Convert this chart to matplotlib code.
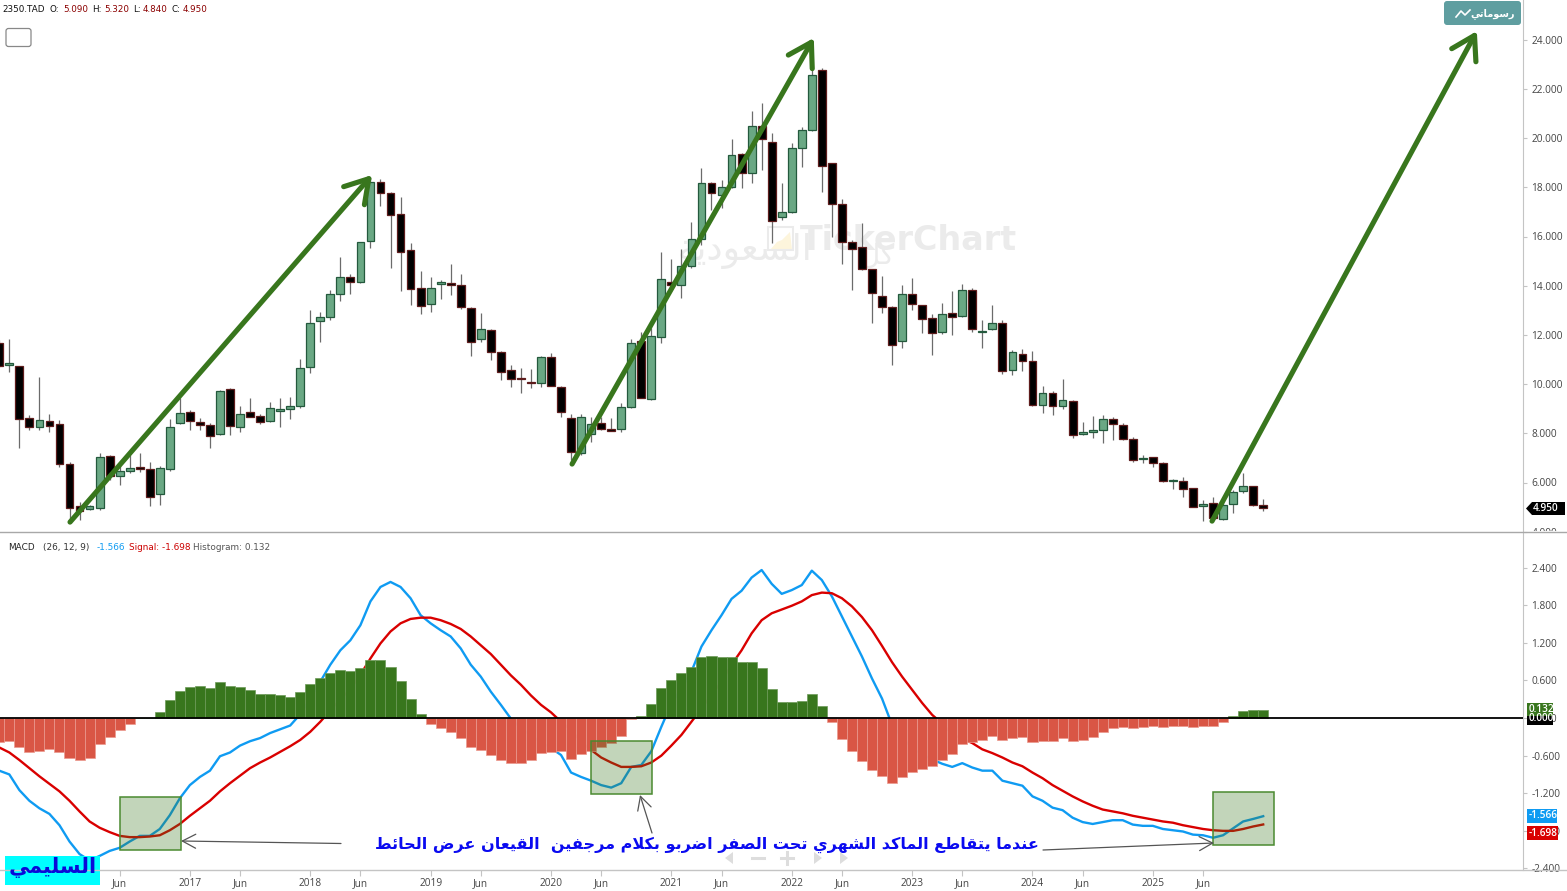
# -*- coding: utf-8 -*-
import numpy as np
import matplotlib
matplotlib.use('Agg')
import matplotlib.pyplot as plt
from matplotlib.patches import Rectangle, FancyBboxPatch, Polygon
from matplotlib.transforms import Bbox

# monthly candles, index 0 = Jun 2015
opens = [11.68,10.78,10.73,8.63,8.27,8.49,8.38,6.74,5.03,4.92,4.98,7.08,6.28,6.47,6.64,6.53,5.52,6.53,8.42,8.88,
         8.47,8.32,7.97,9.79,8.27,8.88,8.72,8.49,8.90,9.00,9.11,10.68,12.58,12.74,13.65,14.35,14.15,15.83,18.20,17.78,
         16.90,15.44,13.89,13.25,14.07,14.12,14.01,13.11,11.82,12.21,11.29,10.56,10.26,10.08,10.03,11.09,9.89,8.61,7.18,7.98,
         8.42,8.17,8.17,9.05,11.76,9.38,11.93,14.16,14.03,14.81,15.90,18.17,17.69,18.00,19.35,18.57,20.49,19.85,16.78,17.00,
         19.58,20.33,22.78,18.97,17.32,15.79,15.56,14.66,13.59,13.15,11.76,13.65,13.20,12.67,12.13,12.88,12.77,13.81,12.10,12.22,
         12.50,10.57,11.22,10.94,9.15,9.62,9.11,9.33,7.97,8.05,8.12,8.58,8.34,7.75,6.94,7.02,6.80,6.05,6.07,5.78,
         5.03,5.15,4.51,5.11,5.65,5.84,5.09]
highs = [11.80,11.83,10.75,8.74,10.29,8.78,8.54,6.82,5.22,5.10,7.18,7.12,6.78,7.12,7.18,6.83,6.67,8.58,9.42,8.95,
         8.61,8.40,9.76,9.83,9.11,9.43,8.78,9.27,9.43,9.47,11.02,13.00,12.93,13.81,15.17,14.46,15.77,18.40,18.34,17.80,
         17.59,15.72,14.58,14.35,14.23,14.89,14.46,13.15,12.88,12.25,11.34,10.77,10.64,10.61,11.14,11.25,9.91,8.78,8.77,8.65,
         8.65,8.61,9.22,11.82,12.13,12.27,15.35,15.08,15.50,16.57,18.77,18.20,18.29,19.96,19.38,21.11,21.41,20.19,18.16,19.79,
         20.44,23.10,22.83,19.00,17.51,15.86,16.53,14.68,14.39,13.17,14.03,14.30,13.22,12.85,13.28,13.80,14.05,13.89,12.60,13.20,
         12.60,11.38,11.41,11.34,9.94,9.70,10.21,9.34,8.44,8.72,8.74,8.65,8.40,7.83,7.12,7.03,6.85,6.14,6.24,5.79,
         5.29,5.40,5.15,5.69,6.37,5.85,5.32]
lows = [10.70,10.48,7.39,8.13,8.13,8.07,6.64,4.41,4.47,4.87,4.88,6.10,5.91,6.40,6.44,5.03,5.08,6.48,8.38,8.13,
        8.13,7.39,7.93,7.93,8.07,8.65,8.38,8.46,8.27,8.58,9.04,10.46,11.72,12.60,13.38,13.67,14.12,15.52,17.24,14.70,
        13.80,13.21,12.85,12.92,13.44,13.62,13.04,11.15,11.71,10.98,10.17,9.89,9.62,9.83,9.89,9.92,8.65,6.91,7.12,7.66,
        8.13,8.10,8.07,9.01,9.42,9.35,11.66,13.90,13.49,14.70,15.66,17.07,17.17,17.97,17.96,18.19,18.70,15.75,16.67,16.94,
        18.84,20.30,17.79,15.99,14.87,13.82,14.65,12.47,12.90,10.78,11.45,13.01,12.09,11.18,12.04,12.01,12.74,12.13,11.45,12.20,
        10.41,10.38,10.54,9.12,8.81,8.74,8.99,7.82,7.93,7.82,7.62,7.73,7.74,6.82,6.78,6.62,6.02,5.72,5.42,4.99,
        4.45,4.50,4.47,4.75,5.56,5.04,4.84]
closes = [10.73,10.86,8.58,8.27,8.53,8.31,6.74,4.98,4.84,5.03,7.04,6.26,6.45,6.57,6.56,5.41,6.57,8.25,8.81,8.49,
          8.34,7.90,9.73,8.31,8.78,8.67,8.46,9.01,9.00,9.09,10.65,12.47,12.74,13.65,14.35,14.15,15.76,18.20,17.75,16.86,
          15.38,13.88,13.17,13.92,14.14,14.03,13.13,11.70,12.22,11.29,10.48,10.19,10.19,10.03,11.09,9.93,8.85,7.22,8.65,8.39,
          8.17,8.11,9.05,11.66,9.45,11.95,14.28,14.03,14.81,15.91,18.17,17.75,18.02,19.33,18.59,20.50,19.95,16.65,16.99,19.58,
          20.31,22.58,18.86,17.32,15.76,15.50,14.66,13.72,13.12,11.60,13.65,13.27,12.66,12.06,12.83,12.73,13.81,12.22,12.17,12.47,
          10.54,11.30,10.92,9.15,9.62,9.09,9.35,7.94,8.05,8.13,8.58,8.38,7.75,6.91,7.01,6.80,6.05,6.11,5.75,5.02,
          5.14,4.54,5.08,5.63,5.87,5.07,4.95]

macd_line = [-0.84,-0.90,-1.15,-1.32,-1.44,-1.53,-1.71,-1.97,-2.17,-2.27,-2.20,-2.12,-2.07,-1.97,-1.88,-1.88,-1.77,-1.55,-1.28,-1.07,
             -0.94,-0.84,-0.61,-0.55,-0.44,-0.37,-0.32,-0.24,-0.18,-0.12,0.06,0.31,0.58,0.85,1.08,1.24,1.48,1.86,2.09,2.17,
             2.09,1.91,1.64,1.51,1.40,1.30,1.11,0.85,0.66,0.42,0.21,-0.01,-0.16,-0.28,-0.38,-0.48,-0.59,-0.87,-0.94,-1.00,
             -1.07,-1.11,-1.04,-0.78,-0.75,-0.53,-0.14,0.23,0.47,0.74,1.14,1.40,1.64,1.90,2.03,2.24,2.36,2.14,1.98,2.04,
             2.12,2.35,2.20,1.94,1.62,1.30,0.98,0.63,0.31,-0.11,-0.31,-0.48,-0.58,-0.66,-0.73,-0.78,-0.72,-0.79,-0.84,-0.84,
             -1.00,-1.04,-1.08,-1.25,-1.32,-1.43,-1.47,-1.59,-1.66,-1.69,-1.66,-1.63,-1.63,-1.70,-1.72,-1.72,-1.77,-1.79,-1.81,-1.86,
             -1.87,-1.91,-1.87,-1.76,-1.65,-1.61,-1.566]
signal_line = [-0.47,-0.55,-0.67,-0.80,-0.93,-1.05,-1.17,-1.32,-1.49,-1.65,-1.75,-1.82,-1.88,-1.90,-1.90,-1.89,-1.87,-1.79,-1.69,-1.56,
               -1.44,-1.32,-1.17,-1.04,-0.92,-0.80,-0.71,-0.63,-0.54,-0.45,-0.35,-0.22,-0.06,0.12,0.30,0.46,0.69,0.95,1.19,1.38,
               1.51,1.58,1.60,1.60,1.56,1.50,1.42,1.30,1.16,1.02,0.85,0.68,0.53,0.36,0.21,0.09,-0.06,-0.19,-0.38,-0.51,
               -0.63,-0.71,-0.78,-0.78,-0.77,-0.71,-0.60,-0.44,-0.27,-0.06,0.15,0.37,0.58,0.85,1.08,1.35,1.56,1.67,1.73,1.79,
               1.86,1.96,2.00,1.99,1.91,1.78,1.61,1.40,1.15,0.89,0.66,0.45,0.24,0.05,-0.09,-0.26,-0.33,-0.40,-0.50,-0.56,
               -0.63,-0.71,-0.77,-0.87,-0.96,-1.07,-1.16,-1.25,-1.33,-1.40,-1.46,-1.49,-1.52,-1.56,-1.59,-1.62,-1.65,-1.67,-1.71,-1.74,
               -1.77,-1.79,-1.80,-1.80,-1.77,-1.73,-1.698]
hist = [-0.38,-0.36,-0.47,-0.54,-0.52,-0.50,-0.54,-0.64,-0.67,-0.63,-0.42,-0.31,-0.19,-0.09,0.00,0.00,0.10,0.28,0.43,0.49,
        0.51,0.48,0.57,0.51,0.49,0.45,0.39,0.38,0.36,0.34,0.41,0.55,0.63,0.71,0.77,0.75,0.79,0.93,0.93,0.81,
        0.59,0.31,0.06,-0.09,-0.16,-0.22,-0.32,-0.47,-0.51,-0.59,-0.67,-0.71,-0.71,-0.67,-0.56,-0.54,-0.53,-0.65,-0.58,-0.52,
        -0.47,-0.40,-0.29,-0.01,0.03,0.22,0.48,0.60,0.71,0.81,0.97,0.99,0.97,0.98,0.89,0.89,0.80,0.47,0.25,0.25,
        0.27,0.39,0.19,-0.07,-0.34,-0.53,-0.69,-0.83,-0.92,-1.04,-0.94,-0.86,-0.81,-0.77,-0.67,-0.57,-0.41,-0.38,-0.35,-0.29,
        -0.35,-0.32,-0.30,-0.38,-0.37,-0.37,-0.32,-0.36,-0.35,-0.30,-0.22,-0.16,-0.14,-0.16,-0.14,-0.13,-0.14,-0.12,-0.12,-0.14,
        -0.12,-0.12,-0.07,0.03,0.11,0.13,0.132]

# months for the time axis labels
tick_months = [12,19,24,31,36,43,48,55,60,67,72,79,84,91,96,103,108,115,120]
tick_names = ['Jun','2017','Jun','2018','Jun','2019','Jun','2020','Jun','2021','Jun','2022','Jun','2023','Jun','2024','Jun','2025','Jun']
price_ticks = [4,6,8,10,12,14,16,18,20,22,24]
macd_ticks = [-2.4,-1.8,-1.2,-0.6,0,0.6,1.2,1.8,2.4]

# Arabic has to be joined by hand, matplotlib does not shape it
forms = {'ا':'\ufe8d\ufe8e','أ':'\ufe83\ufe84','د':'\ufea9\ufeaa','ر':'\ufead\ufeae','و':'\ufeed\ufeee','ذ':'\ufeab\ufeac','ز':'\ufeaf\ufeb0',
         'ة':'\ufe93\ufe94','ئ':'\ufe89\ufe8a\ufe8b\ufe8c','ب':'\ufe8f\ufe90\ufe91\ufe92','ت':'\ufe95\ufe96\ufe97\ufe98',
         'ج':'\ufe9d\ufe9e\ufe9f\ufea0','ح':'\ufea1\ufea2\ufea3\ufea4','س':'\ufeb1\ufeb2\ufeb3\ufeb4','ش':'\ufeb5\ufeb6\ufeb7\ufeb8',
         'ص':'\ufeb9\ufeba\ufebb\ufebc','ض':'\ufebd\ufebe\ufebf\ufec0','ط':'\ufec1\ufec2\ufec3\ufec4','ع':'\ufec9\ufeca\ufecb\ufecc',
         'ف':'\ufed1\ufed2\ufed3\ufed4','ق':'\ufed5\ufed6\ufed7\ufed8','ك':'\ufed9\ufeda\ufedb\ufedc','ل':'\ufedd\ufede\ufedf\ufee0',
         'م':'\ufee1\ufee2\ufee3\ufee4','ن':'\ufee5\ufee6\ufee7\ufee8','ه':'\ufee9\ufeea\ufeeb\ufeec','ي':'\ufef1\ufef2\ufef3\ufef4'}

def shape(txt):
    out = []
    txt = txt.replace('لا', '\ufefb')
    for i, c in enumerate(txt):
        if c == '\ufefb':
            prev = txt[i-1] if i > 0 else ' '
            out.append('\ufefc' if prev in forms and len(forms[prev]) == 4 else '\ufefb')
            continue
        if c not in forms:
            out.append(c)
            continue
        f = forms[c]
        prev = txt[i-1] if i > 0 else ' '
        nxt = txt[i+1] if i < len(txt)-1 else ' '
        before = prev in forms and len(forms[prev]) == 4
        after = len(f) == 4 and (nxt in forms or nxt == '\ufefb')
        if before and after:
            out.append(f[3])
        elif after:
            out.append(f[2])
        elif before:
            out.append(f[1])
        else:
            out.append(f[0])
    return ''.join(out[::-1])

W, H = 1567, 891
fig = plt.figure(figsize=(W/100, H/100), dpi=100)

def px_axes(left, top, right, bottom):
    return fig.add_axes([left/W, 1-bottom/H, (right-left)/W, (bottom-top)/H])

ax1 = px_axes(0, 0, 1523, 532)
ax2 = px_axes(0, 533, 1523, 870)
for ax in (ax1, ax2):
    ax.set_xlim(0.07, 151.9)
    for s in ('top', 'left', 'bottom'):
        ax.spines[s].set_visible(False)
    ax.spines['right'].set_color('#c4c4c4')
    ax.yaxis.tick_right()
    ax.tick_params(axis='y', length=3, width=0.8, color='#c4c4c4', labelcolor='#444444', labelsize=7.3, pad=3)
ax1.set_ylim(4 + (531.7-532)/24.6, 4 + 531.7/24.6)
ax2.set_ylim((718-870)/62.7, (718-533)/62.7)
ax1.set_xticks([])
ax1.set_yticks(price_ticks)
ax1.set_yticklabels(['%.3f' % v for v in price_ticks], family='Open Sans', va='center_baseline')
ax2.set_yticks(macd_ticks)
ax2.set_yticklabels(['%.3f' % v for v in macd_ticks], family='Open Sans', va='center_baseline')
for t in ax1.get_yticklabels():
    t.set_clip_on(True)
    t.set_clip_box(Bbox([[0, H-531], [W, H]]))
ax2.set_xticks(tick_months)
ax2.set_xticklabels(tick_names, family='Open Sans', fontsize=7.3, color='#444444')
ax2.tick_params(axis='x', length=4, width=0.8, color='#c4c4c4', pad=1.8)

# overlay in pixels for the labels around the chart
ov = fig.add_axes([0, 0, 1, 1], zorder=10)
ov.set_xlim(0, W)
ov.set_ylim(H, 0)
ov.axis('off')
ov.patch.set_visible(False)

# candles
months = np.arange(len(closes))
o, hi, lo, c = map(np.array, (opens, highs, lows, closes))
up = c >= o
ax1.vlines(months, lo, hi, color='#6b6b6b', lw=0.9, zorder=2)
ax1.bar(months[up], (c-o)[up], bottom=o[up], width=0.78, color='#6aa884', edgecolor='#24593d', lw=0.9, zorder=3)
ax1.bar(months[~up], (o-c)[~up], bottom=c[~up], width=0.78, color='#000000', edgecolor='#5e1c1c', lw=0.9, zorder=3)

# watermark
ax1.text(800, 240, 'TickerChart', transform=ov.transData, fontsize=24, fontweight='bold', family='DejaVu Sans',
         color='#ebebeb', va='center', ha='left', zorder=1)
ax1.text(678, 251, shape('السعودية'), transform=ov.transData, fontsize=26, family='DejaVu Sans',
         color='#ebebeb', va='center', ha='left', zorder=1)
ax1.text(860, 256, shape('كل'), transform=ov.transData, fontsize=20, family='DejaVu Sans',
         color='#ebebeb', va='center', ha='left', zorder=1)
ax1.add_patch(Polygon([(770, 250), (777, 242), (782, 240), (790, 232), (792, 250)], transform=ov.transData,
                      fc='#fdf5dc', ec='none', zorder=1))
ax1.add_patch(Rectangle((768, 227), 25, 23, transform=ov.transData, fill=False, ec='#ebebeb', lw=1.5, zorder=1))

# drawn arrows on the price pane
for start, end in [((7.05, 4.39), (37.16, 18.5)), ((57.1, 6.75), (81.2, 24.07)), ((120.9, 4.43), (147.3, 24.35))]:
    ax1.annotate('', xy=end, xytext=start, zorder=6, annotation_clip=False,
                 arrowprops=dict(arrowstyle='->,head_length=0.9,head_width=0.55', color='#38761d', lw=3.7,
                                 mutation_scale=18, shrinkA=0, shrinkB=0))

# MACD pane
ax2.plot(months, macd_line, color='#0f9bf2', lw=1.7, zorder=2)
ax2.plot(months, signal_line, color='#d90000', lw=1.7, zorder=2)
hist = np.array(hist)
ax2.bar(months[hist >= 0], hist[hist >= 0], width=1.0, color='#38761d', edgecolor='#6d9a58', lw=0.5, zorder=3)
ax2.bar(months[hist < 0], hist[hist < 0], width=1.0, color='#d95645', edgecolor='#eb9a8f', lw=0.5, zorder=3)
ax2.axhline(0, color='#000000', lw=1.3, zorder=4)

# marked crossings
for left, top, right, bottom in [(12.03, -1.26, 18.1, -2.105), (59.0, -0.367, 65.1, -1.212), (121.0, -1.18, 127.1, -2.03)]:
    ax2.add_patch(Rectangle((left, bottom), right-left, top-bottom, facecolor='#38761d', alpha=0.3, lw=0, zorder=5))
    ax2.add_patch(Rectangle((left, bottom), right-left, top-bottom, fill=False, edgecolor='#4a8a30', lw=1.1, zorder=5))

ov.plot([0, W], [532, 532], color='#a8a8a8', lw=1)
ov.plot([0, W], [870, 870], color='#c4c4c4', lw=1)

for x, txt, col in [(2,'2350.TAD','#111111'),(50,'O:','#111111'),(63,'5.090','#8b0000'),(92,'H:','#111111'),(104,'5.320','#8b0000'),
                    (133,'L:','#111111'),(143,'4.840','#8b0000'),(171,'C:','#111111'),(183,'4.950','#8b0000')]:
    ov.text(x, 9.5, txt, color=col, fontsize=6.3, va='center', family='DejaVu Sans')
for x, txt, col in [(8,'MACD','#222222'),(43,'(26, 12, 9)','#333333'),(97,'-1.566','#0f9bf2'),(129,'Signal: -1.698','#cc0000'),
                    (193,'Histogram: 0.132','#555555')]:
    ov.text(x, 547.5, txt, color=col, fontsize=6.4, va='center', family='DejaVu Sans')

ov.add_patch(FancyBboxPatch((6, 28.5), 25, 18, boxstyle='round,pad=0,rounding_size=2.5', fc='white', ec='#888888', lw=0.9))

# button top right
ov.add_patch(FancyBboxPatch((1444, 1), 77, 24, boxstyle='round,pad=0,rounding_size=3', fc='#5f9ea0', ec='none'))
ov.plot([1456, 1461, 1465, 1470], [17, 11, 15, 10], color='white', lw=1.2)
ov.text(1515, 13.5, shape('رسوماتي'), color='white', fontsize=7, va='center', ha='right', family='DejaVu Sans', fontweight='bold')

# value badges on the right edge
ov.add_patch(Polygon([(1526, 508.5), (1532, 502), (1565, 502), (1565, 515), (1532, 515)], fc='black', ec='none'))
ov.text(1533, 508.7, '4.950', color='white', fontsize=7.2, va='center', family='Open Sans', fontweight='semibold')
for top, bot, right, txt, fc in [(712, 725, 1553, '0.000', '#000000'), (703, 716, 1553, '0.132', '#38761d'),
                                 (809, 823, 1557, '-1.566', '#0f9bf2'), (826, 840, 1558, '-1.698', '#d90000')]:
    ov.add_patch(Rectangle((1527, top), right-1527, bot-top, fc=fc, ec='none'))
    ov.text(1528.5, (top+bot)/2, txt, color='white', fontsize=7.2, va='center', family='Open Sans', fontweight='semibold')

# faint navigation marks under the text
for x0, pts in [(725, [(8, -6), (0, 0), (8, 6)]), (814, [(0, -6), (8, 0), (0, 6)]), (840, [(0, -6), (8, 0), (0, 6)])]:
    ov.add_patch(Polygon([(x0+a, 858+b) for a, b in pts], fc='#dddddd', ec='none'))
ov.plot([752, 764], [858, 858], color='#dddddd', lw=2.2)
ov.plot([781, 793], [858, 858], color='#dddddd', lw=2.2)
ov.plot([787, 787], [852, 864], color='#dddddd', lw=2.2)

# callout
ov.text(707, 845, shape('عندما يتقاطع الماكد الشهري تحت الصفر اضربو بكلام مرجفين  القيعان عرض الحائط'),
        color='#0a0af0', fontsize=11.5, fontweight='bold', family='DejaVu Sans', ha='center', va='center')
for tail, tip in [((341, 843.5), (181, 841)), ((652, 833), (640, 795)), ((1043, 850), (1214, 843))]:
    ov.annotate('', xy=tip, xytext=tail, arrowprops=dict(arrowstyle='->,head_length=0.8,head_width=0.42', color='#555555',
                                                         lw=0.9, mutation_scale=12, shrinkA=0, shrinkB=0))

ov.add_patch(Rectangle((5, 856), 95, 29, fc='#00ffff', ec='none'))
ov.text(52.5, 868, shape('السليمي'), color='#0a0ad8', fontsize=15, fontweight='bold', family='DejaVu Sans', ha='center', va='center')

fig.savefig('out.png', dpi=100)
